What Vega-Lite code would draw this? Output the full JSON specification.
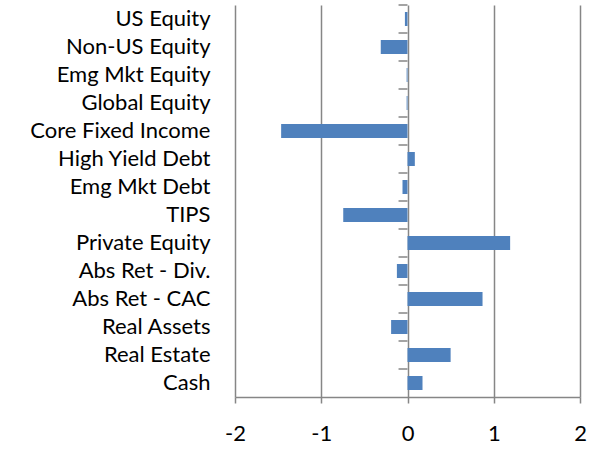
{
  "$schema": "https://vega.github.io/schema/vega-lite/v6.json",
  "width": 345,
  "height": 392,
  "autosize": "none",
  "padding": {"left": 235, "top": 5, "right": 10, "bottom": 54},
  "background": "white",
  "config": {"view": {"stroke": null}},
  "data": {
    "values": [
      {"c": "US Equity", "v": -0.03},
      {"c": "Non-US Equity", "v": -0.31},
      {"c": "Emg Mkt Equity", "v": -0.01},
      {"c": "Global Equity", "v": -0.01},
      {"c": "Core Fixed Income", "v": -1.465},
      {"c": "High Yield Debt", "v": 0.085},
      {"c": "Emg Mkt Debt", "v": -0.058},
      {"c": "TIPS", "v": -0.745},
      {"c": "Private Equity", "v": 1.19},
      {"c": "Abs Ret - Div.", "v": -0.123},
      {"c": "Abs Ret - CAC", "v": 0.87},
      {"c": "Real Assets", "v": -0.19},
      {"c": "Real Estate", "v": 0.5},
      {"c": "Cash", "v": 0.174}
    ]
  },
  "layer": [
    {
      "mark": {"type": "bar", "color": "#4F81BD"},
      "encoding": {
        "y": {
          "field": "c", "type": "nominal", "sort": null,
          "scale": {"paddingInner": 0.5, "paddingOuter": 0.25},
          "axis": {
            "title": null, "domain": false, "ticks": false,
            "labelPadding": 25, "labelFont": "Lato", "labelFontSize": 22,
            "labelColor": "#000000", "labelLimit": 300
          }
        },
        "x": {
          "field": "v", "type": "quantitative",
          "scale": {"domain": [-2, 2], "nice": false},
          "axis": {
            "title": null, "values": [-2, -1, 0, 1, 2],
            "labelExpr": "'' + datum.value", "labelFlush": false,
            "grid": true, "gridColor": "#868686", "gridWidth": 1.5, "gridOpacity": 1,
            "domainColor": "#868686", "domainWidth": 1.5,
            "tickColor": "#868686", "tickWidth": 1.5, "tickSize": 6,
            "labelPadding": 20, "labelFont": "Lato", "labelFontSize": 22,
            "labelColor": "#000000"
          }
        }
      }
    },
    {
      "mark": {"type": "bar", "color": "#868686", "height": 1.5, "yOffset": -14},
      "encoding": {
        "y": {"field": "c", "type": "nominal", "sort": null},
        "x": {"datum": -0.104, "type": "quantitative"},
        "x2": {"datum": 0}
      }
    }
  ]
}
